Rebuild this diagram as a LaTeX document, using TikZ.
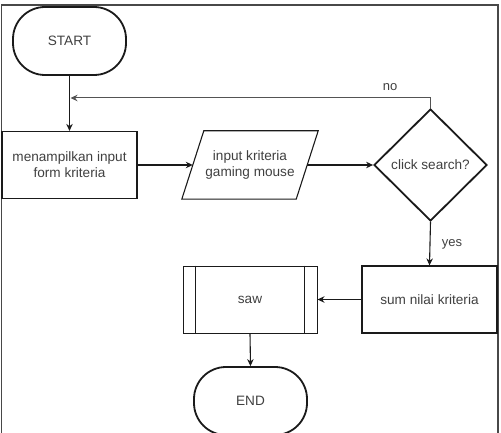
\documentclass[tikz,border=0pt]{standalone}
\usepackage{fontspec}
\setmainfont{Liberation Sans}
\usetikzlibrary{shapes.geometric,arrows.meta}
\definecolor{txt}{HTML}{404040}
\definecolor{ln}{HTML}{1A1A1A}
\begin{document}
\begin{tikzpicture}[x=1pt,y=-1pt,
  every node/.style={font=\fontsize{13.6}{16}\selectfont, text=txt, align=center, inner sep=0pt},
  term/.style={draw=ln, line width=1.8pt, rounded corners=32pt, minimum width=113pt, minimum height=68pt},
  procbox/.style={draw=ln, line width=1.2pt, minimum width=135pt, minimum height=67pt},
  decis/.style={draw=ln, line width=1.8pt, diamond, minimum width=113pt, minimum height=112pt},
  io/.style={minimum width=114pt, minimum height=68pt},
  conn/.style={draw=ln, line width=1.1pt, -{Stealth[length=7pt,width=6.5pt]}},
  fbconn/.style={draw=ln!75, line width=1pt, -{Stealth[length=7pt,width=6.5pt]}},
  lab/.style={font=\fontsize{13}{15}\selectfont}
]
\useasboundingbox (0,0) rectangle (501,433);
\draw[draw=ln!80, line width=1.2pt] (1.5,5) rectangle (498,445);

\node[term] (start) at (69.5,41) {START};
\node[procbox] (form) at (69.5,165) {menampilkan input\\form kriteria};
\node[io] (inp) at (250,165) {input kriteria\\gaming mouse};
\draw[draw=ln, line width=1.1pt] ([xshift=11pt]inp.north west) -- ([xshift=11pt]inp.north east)
  -- ([xshift=-11pt]inp.south east) -- ([xshift=-11pt]inp.south west) -- cycle;
\node[decis] (dec) at (430.5,165) {click search?};
\node[procbox] (sum) at (429.5,299.5) {sum nilai kriteria};
\node[procbox, minimum width=134pt, line width=1pt] (saw) at (250,299.5) {saw};
\draw[draw=ln, line width=1pt] ([xshift=13pt]saw.north west) -- ([xshift=13pt]saw.south west);
\draw[draw=ln, line width=1.6pt] ([xshift=-13pt]saw.north east) -- ([xshift=-13pt]saw.south east);
\node[term] (end) at (250.5,401) {END};

\coordinate (merge) at (70.5,98);
\draw[conn] (start.south) -- (form.north);
\draw[fbconn] (dec.north) |- (merge);
\node[lab] (no) at (390,87) {no};
\draw[conn] (form.east) -- (inp.west);
\draw[conn] (inp.east) -- (dec.west);
\draw[conn] (dec.south) -- (sum.north);
\node[lab] (yes) at (452,244) {yes};
\draw[conn] (sum.west) -- (saw.east);
\draw[conn] (saw.south) -- (end.north);
\end{tikzpicture}
\end{document}
